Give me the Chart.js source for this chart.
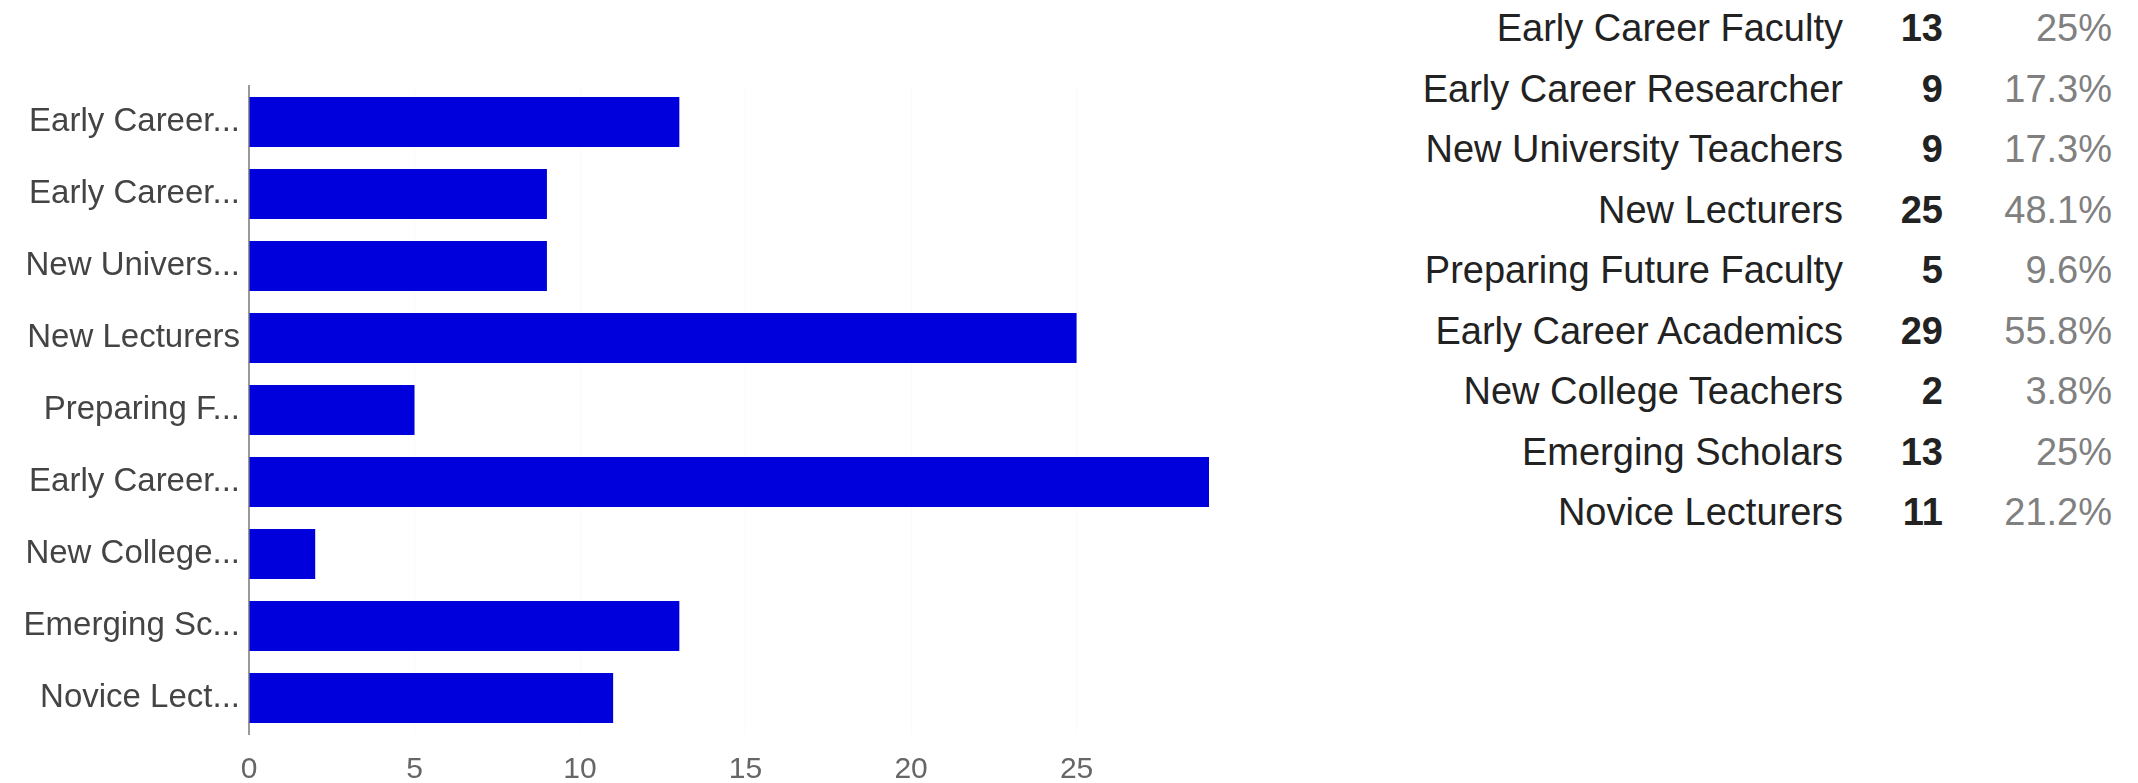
<!DOCTYPE html>
<html>
<head>
<meta charset="utf-8">
<script src="https://cdn.jsdelivr.net/npm/chart.js@4/dist/chart.umd.min.js"></script>
<style>
  html, body { margin: 0; padding: 0; background: #ffffff; }
  body { width: 2138px; height: 783px; position: relative; overflow: hidden; font-family: "Liberation Sans", Arial, sans-serif; }
  #chartBox { position: absolute; left: 0; top: 0; width: 1240px; height: 783px; }
  .cell { position: absolute; white-space: nowrap; font-size: 38px; line-height: 44px; text-align: right; }
  .lbl { color: #222222; }
  .cnt { color: #222222; font-weight: bold; }
  .pct { color: #808080; }
</style>
</head>
<body>
<div id="chartBox"><canvas id="c" width="1240" height="783"></canvas></div>
<div id="table"></div>
<script>
// ---- data ----
const categories = [
  "Early Career Faculty",
  "Early Career Researcher",
  "New University Teachers",
  "New Lecturers",
  "Preparing Future Faculty",
  "Early Career Academics",
  "New College Teachers",
  "Emerging Scholars",
  "Novice Lecturers"
];
const axisLabels = [
  "Early Career...",
  "Early Career...",
  "New Univers...",
  "New Lecturers",
  "Preparing F...",
  "Early Career...",
  "New College...",
  "Emerging Sc...",
  "Novice Lect..."
];
const counts = [13, 9, 9, 25, 5, 29, 2, 13, 11];
const percentLabels = ["25%", "17.3%", "17.3%", "48.1%", "9.6%", "55.8%", "3.8%", "25%", "21.2%"];
const xTickStep = 5;

// ---- chart ----
const ctx = document.getElementById('c').getContext('2d');
new Chart(ctx, {
  type: 'bar',
  data: {
    labels: categories,
    datasets: [{
      data: counts,
      backgroundColor: '#0000dc',
      borderWidth: 0,
      barPercentage: 0.694,
      categoryPercentage: 1.0
    }]
  },
  options: {
    indexAxis: 'y',
    responsive: false,
    animation: false,
    devicePixelRatio: 1,
    layout: { padding: { top: 86, right: 31, bottom: 0, left: 0 } },
    plugins: { legend: { display: false }, tooltip: { enabled: false } },
    scales: {
      x: {
        min: 0,
        max: 29,
        grid: { color: '#fafafa', lineWidth: 1, drawTicks: false },
        border: { display: false },
        ticks: {
          stepSize: xTickStep,
          includeBounds: false,
          padding: 18,
          color: '#666666',
          font: { family: '"Liberation Sans", Arial, sans-serif', size: 30 }
        },
        afterFit: s => { s.height = 49; }
      },
      y: {
        grid: { display: false, drawTicks: false },
        border: { display: true, color: '#999999', width: 2 },
        ticks: {
          padding: 9,
          color: '#444444',
          font: { family: '"Liberation Sans", Arial, sans-serif', size: 33 },
          callback: (v, i) => axisLabels[i]
        },
        afterFit: s => { s.width = 249; }
      }
    }
  }
});

// ---- table on the right ----
const table = document.getElementById('table');
const rowTop = 28, rowStep = 60.5;
categories.forEach((name, i) => {
  const y = rowTop + i * rowStep - 22;
  const cells = [
    { cls: 'lbl', text: name, right: 2138 - 1843 },
    { cls: 'cnt', text: String(counts[i]), right: 2138 - 1943 },
    { cls: 'pct', text: percentLabels[i], right: 2138 - 2112 }
  ];
  cells.forEach(c => {
    const d = document.createElement('div');
    d.className = 'cell ' + c.cls;
    d.textContent = c.text;
    d.style.right = c.right + 'px';
    d.style.top = y + 'px';
    table.appendChild(d);
  });
});
</script>
</body>
</html>
